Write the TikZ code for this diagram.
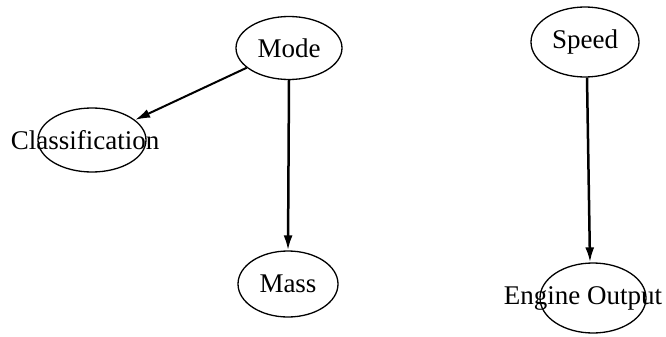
\documentclass[tikz,border=0pt]{standalone}
\usepackage{fontspec}
\setmainfont{Liberation Serif}
\usetikzlibrary{shapes.geometric,arrows.meta}
\tikzset{
  var/.style={draw, ellipse, line width=1.3pt, inner sep=0pt,
    font=\fontsize{27}{31}\selectfont},
  dep/.style={line width=2.5pt, -{Latex[length=15pt,width=9pt]}},
}
% zero-width label so the ellipse keeps its own size; the optional shift moves the text sideways
\newcommand{\nodetext}[2][0pt]{\makebox[0pt]{\hspace*{#1}#2}}
\begin{document}
\begin{tikzpicture}[x=1pt,y=-1pt]
  \useasboundingbox (0,0) rectangle (666,337);
  \node[var, minimum width=106pt, minimum height=63pt] (mode)  at (289,48)  {\nodetext{Mode}};
  \node[var, minimum width=108pt, minimum height=64pt] (class) at (92,140)  {\nodetext[-14pt]{Classification}};
  \node[var, minimum width=100pt, minimum height=66pt] (mass)  at (288,284) {\nodetext{Mass}};
  \node[var, minimum width=108pt, minimum height=70pt] (speed) at (585,42)  {\nodetext{Speed}};
  \node[var, minimum width=106pt, minimum height=70pt] (engine) at (593,298) {\nodetext[-20pt]{Engine Output}};
  \draw[dep, line width=2pt] (mode) -- (class);
  \draw[dep] (mode.south) -- (mass.north);
  \draw[dep] ([xshift=2pt]speed.south) -- ([xshift=-3pt]engine.north);
\end{tikzpicture}
\end{document}
